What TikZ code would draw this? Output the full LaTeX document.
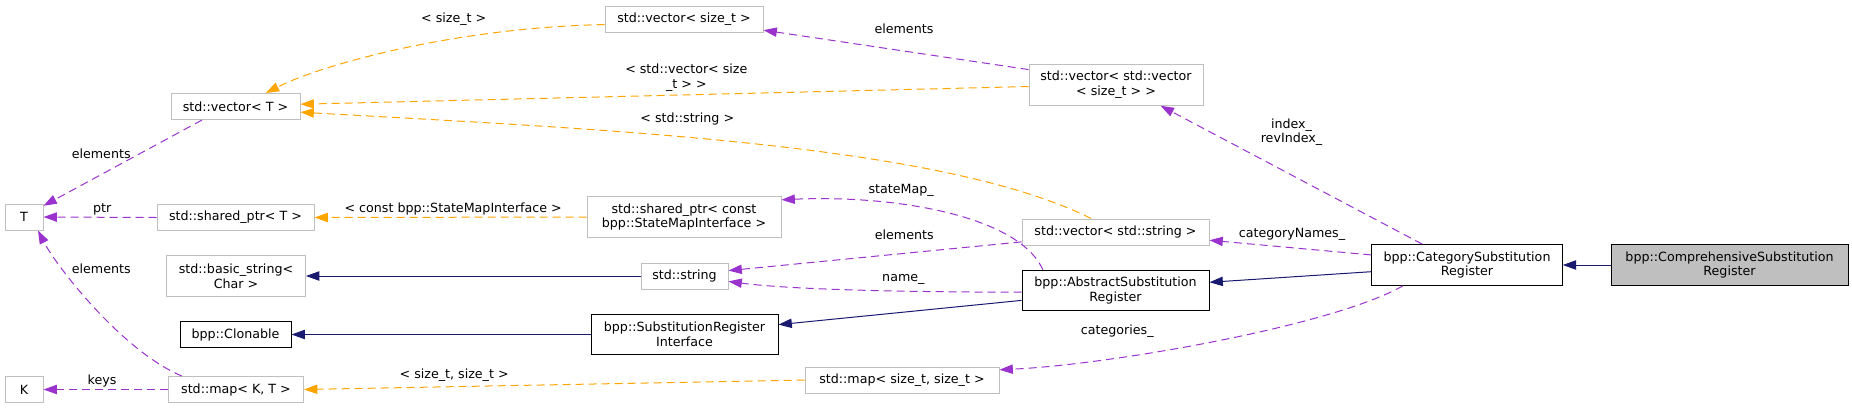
\documentclass[tikz,border=0pt]{standalone}
\usepackage{fontspec}
\setmainfont{DejaVu Sans}
\usepackage{tikz}
\usetikzlibrary{arrows.meta}
\definecolor{tmplorange}{HTML}{FFA500}
\definecolor{usepurple}{HTML}{9A32CD}
\definecolor{inhblue}{HTML}{191970}
\definecolor{boxgray}{HTML}{BFBFBF}
\newcommand{\dvfont}{\fontsize{9.5pt}{11pt}\selectfont}
\tikzstyle{extbox} = [rectangle, draw=boxgray, fill=white, align=center, inner xsep=0pt, inner ysep=4pt, minimum height=19.5pt, font=\dvfont, line width=0.75pt]
\tikzstyle{twoline} = [minimum height=30.5pt]
\tikzstyle{docbox} = [extbox, draw=black]
\tikzstyle{mainbox} = [docbox, fill=boxgray]
\tikzstyle{tmpl} = [draw=tmplorange, line width=0.75pt, dash pattern=on 6pt off 3.75pt, -{Triangle[length=10pt, width=7pt]}]
\tikzstyle{uses} = [tmpl, draw=usepurple]
\tikzstyle{inherit} = [draw=inhblue, line width=0.75pt, -{Triangle[length=10pt, width=7pt]}]
\tikzstyle{lbl} = [font=\dvfont, inner sep=0pt, align=center, text=black]
\begin{document}
\begin{tikzpicture}[x=0.75pt, y=-0.75pt]
  \useasboundingbox (0,0) rectangle (1852,408);
  % classes
  \node[extbox, minimum width=96.75pt] (vecT) at (235.5,106.5) {std::vector< T >};
  \node[extbox, minimum width=28.5pt] (T) at (24,217) {T};
  \node[extbox, minimum width=117.75pt] (shptrT) at (235.5,217.5) {std::shared\_ptr< T >};
  \node[extbox, twoline, minimum width=104.25pt] (bstr) at (236,276) {std::basic\_string<\\Char >};
  \node[docbox, minimum width=83.25pt] (clon) at (235.5,334.5) {bpp::Clonable};
  \node[extbox, minimum width=28.5pt] (K) at (24,389.5) {K};
  \node[extbox, minimum width=101.25pt] (mapKT) at (236,389.5) {std::map< K, T >};
  \node[extbox, minimum width=118.5pt] (vsize) at (684,19) {std::vector< size\_t >};
  \node[extbox, twoline, minimum width=130.5pt] (vecvec) at (1116,85) {std::vector< std::vector\\< size\_t > >};
  \node[extbox, twoline, minimum width=145.5pt] (shptrC) at (684,217) {std::shared\_ptr< const\\bpp::StateMapInterface >};
  \node[extbox, minimum width=65.25pt] (stdstr) at (684.5,276) {std::string};
  \node[docbox, twoline, minimum width=140.25pt] (subri) at (684.5,334.5) {bpp::SubstitutionRegister\\Interface};
  \node[extbox, minimum width=145.5pt] (mapSS) at (902,380) {std::map< size\_t, size\_t >};
  \node[extbox, minimum width=140.25pt] (vstr) at (1115.5,232) {std::vector< std::string >};
  \node[docbox, twoline, minimum width=140.25pt] (abst) at (1115.5,290.5) {bpp::AbstractSubstitution\\Register};
  \node[docbox, twoline, minimum width=142.9pt] (cat) at (1467,265) {bpp::CategorySubstitution\\Register};
  \node[mainbox, twoline, minimum width=177.75pt] (comp) at (1729.5,265) {bpp::ComprehensiveSubstitution\\Register};

  % template instances
  \draw[tmpl] (vsize.184) .. controls +(-150,3) and +(55,-28) .. node[lbl, pos=0.355, yshift=14.8pt]{< size\_t >} (vecT.24);
  \draw[tmpl] (vecvec.181) -- node[lbl, pos=0.47, yshift=13pt]{< std::vector< size\\\_t > >} (vecT.2);
  \draw[tmpl] (vstr.151) .. controls +(-150,-75) and +(300,17) .. node[lbl, pos=0.575, yshift=13.8pt]{< std::string >} (vecT.-5);
  \draw[tmpl] (shptrC.west) -- node[lbl, pos=0.49, yshift=6pt]{< const bpp::StateMapInterface >} (shptrT.east);
  \draw[tmpl] (mapSS.west) -- node[lbl, pos=0.70, yshift=8.8pt]{< size\_t, size\_t >} (mapKT.east);

  % members
  \draw[uses] (cat.155) -- node[lbl, pos=0.5, yshift=32pt]{index\_\\revIndex\_} (vecvec.-25);
  \draw[uses] (vecvec.170) -- node[lbl, pos=0.47, yshift=16.5pt]{elements} (vsize.-8);
  \draw[uses] (vecT.202) -- node[lbl, pos=0.636, yshift=15.75pt]{elements} (T.30);
  \draw[uses] (shptrT.west) -- node[lbl, pos=0.48, yshift=6pt]{ptr} (T.east);
  \draw[uses] (mapKT.166) .. controls +(-60,-25) and +(18,35) .. node[lbl, pos=0.725, xshift=29pt]{elements} (T.-44);
  \draw[uses] (mapKT.west) -- node[lbl, pos=0.53, yshift=6.4pt]{keys} (K.east);
  \draw[uses] (vstr.186) -- node[lbl, pos=0.40, yshift=13.8pt]{elements} (stdstr.7);
  \draw[uses] (abst.181) .. controls +(-120,0) and +(60,8) .. node[lbl, pos=0.34, yshift=8.5pt]{name\_} (stdstr.-7);
  \draw[uses] (abst.164) .. controls +(-25,-55) and +(110,-5) .. node[lbl, pos=0.64, yshift=10.6pt]{stateMap\_} (shptrC.10);
  \draw[uses] (cat.174) -- node[lbl, pos=0.49, yshift=9.75pt]{categoryNames\_} (vstr.-5);
  \draw[uses] (cat.198) .. controls +(-70,40) and +(110,-5) .. node[lbl, pos=0.71, yshift=20pt]{categories\_} (mapSS.6);

  % inheritance
  \draw[inherit] (stdstr.west) -- (bstr.east);
  \draw[inherit] (subri.west) -- (clon.east);
  \draw[inherit] (abst.186) -- (subri.6);
  \draw[inherit] (cat.184) -- (abst.5);
  \draw[inherit] (comp.west) -- (cat.east);
\end{tikzpicture}
\end{document}
